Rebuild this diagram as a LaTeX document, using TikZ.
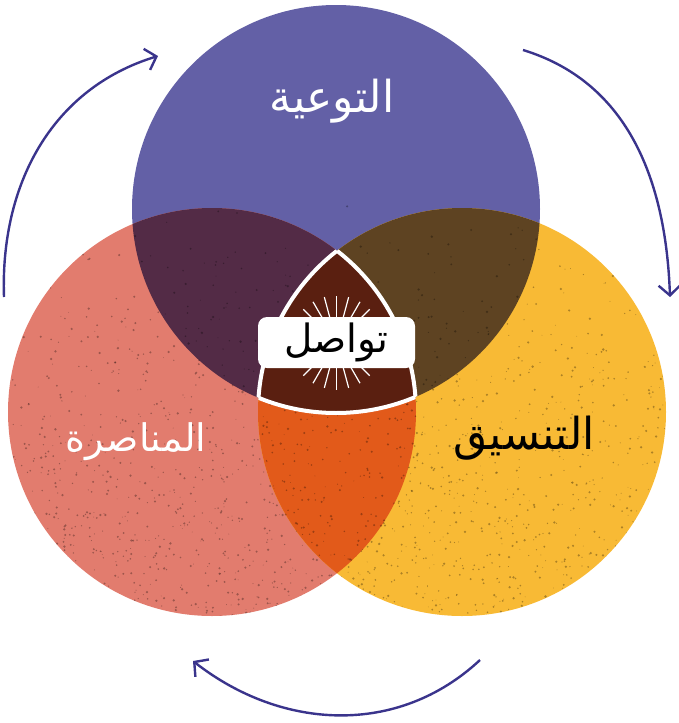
\documentclass[tikz,border=0pt]{standalone}
\usepackage{fontspec}
\newfontfamily\arabicfont[Script=Arabic]{DejaVu Sans}
\TeXXeTstate=1
\usepackage{tikz}
\usetikzlibrary{arrows.meta, calc}

\definecolor{awarepurple}{RGB}{99, 96, 166}
\definecolor{advocred}{RGB}{226, 124, 110}
\definecolor{coordyellow}{RGB}{248, 186, 53}
\definecolor{plumdark}{RGB}{83, 43, 70}
\definecolor{olivebrown}{RGB}{94, 67, 34}
\definecolor{burntorange}{RGB}{226, 90, 26}
\definecolor{corebrown}{RGB}{90, 31, 16}
\definecolor{arrowblue}{RGB}{58, 52, 140}

\tikzset{
  ringtext/.style={font=\arabicfont\fontsize{44}{50}\selectfont, inner sep=0pt},
  cyclearrow/.style={draw=arrowblue, line width=2.4pt, -{Straight Barb[length=10pt, width=22pt]}}
}

\begin{document}
\begin{tikzpicture}[x=1pt, y=-1pt]
  \useasboundingbox (0,0) rectangle (679,723);

  % circle centres
  \coordinate (awareness) at (336,209);
  \coordinate (advocacy) at (212,412);
  \coordinate (coordination) at (462,412);

  % the three circles
  \fill[awarepurple] (awareness) circle (204);
  \fill[advocred] (advocacy) circle (204);
  \fill[coordyellow] (coordination) circle (204);

  % pairwise overlaps
  \begin{scope}
    \clip (awareness) circle (204);
    \fill[plumdark] (advocacy) circle (204);
    \fill[olivebrown] (coordination) circle (204);
  \end{scope}
  \begin{scope}
    \clip (advocacy) circle (204);
    \fill[burntorange] (coordination) circle (204);
  \end{scope}

  % grain, heavier towards the bottom
  \begin{scope}
    \clip (awareness) circle (204) (advocacy) circle (204) (coordination) circle (204);
    \pgfmathsetseed{4242}
    \foreach \i in {1,...,1800} {
      \pgfmathsetmacro{\gx}{10+656*rnd}
      \pgfmathsetmacro{\gy}{200+420*sqrt(rnd)}
      \pgfmathsetmacro{\gr}{0.4+0.9*rnd}
      \fill[black, opacity=0.3] (\gx,\gy) circle (\gr);
    }
  \end{scope}

  % centre piece
  \coordinate (core) at (336.5,342.5);
  \begin{scope}
    \clip (awareness) circle (204);
    \clip (advocacy) circle (204);
    \fill[corebrown] (coordination) circle (204);
    \foreach \a in {45,60,...,135} {
      \draw[white, line width=1.2pt] ($(core)+(\a:20)$) -- ($(core)+(\a:47)$);
      \draw[white, line width=1.2pt] ($(core)+(-\a:20)$) -- ($(core)+(-\a:47)$);
    }
  \end{scope}
  \begin{scope}
    \clip (advocacy) circle (204);
    \clip (coordination) circle (204);
    \draw[white, line width=4pt] (awareness) circle (204);
  \end{scope}
  \begin{scope}
    \clip (awareness) circle (204);
    \clip (coordination) circle (204);
    \draw[white, line width=4pt] (advocacy) circle (204);
  \end{scope}
  \begin{scope}
    \clip (awareness) circle (204);
    \clip (advocacy) circle (204);
    \draw[white, line width=4pt] (coordination) circle (204);
  \end{scope}

  \node[fill=white, rounded corners=9pt, minimum width=157pt, minimum height=51pt, inner sep=0pt,
        font=\arabicfont\fontsize{39}{44}\selectfont] (hub) at (core) {\beginR تواصل\endR};

  % circle labels
  \node[ringtext, text=white] (awarelabel) at (332,101) {\beginR التوعية\endR};
  \node[ringtext, text=white, font=\arabicfont\fontsize{38}{44}\selectfont] (advoclabel) at (136,442) {\beginR المناصرة\endR};
  \node[ringtext, text=black] (coordlabel) at (524,438) {\beginR التنسيق\endR};

  % cycle arrows
  \coordinate (upstart) at (4,297);
  \coordinate (upend) at (158,56);
  \coordinate (rightstart) at (523,50);
  \coordinate (rightend) at (670,297);
  \coordinate (lowstart) at (480,660);
  \coordinate (lowend) at (193,661);
  \draw[cyclearrow] (upstart) to[out=92, in=197] (upend);
  \draw[cyclearrow] (rightstart) to[out=-17, in=92] (rightend);
  \draw[cyclearrow] (lowstart) to[out=-137, in=-38] (lowend);
\end{tikzpicture}
\end{document}
